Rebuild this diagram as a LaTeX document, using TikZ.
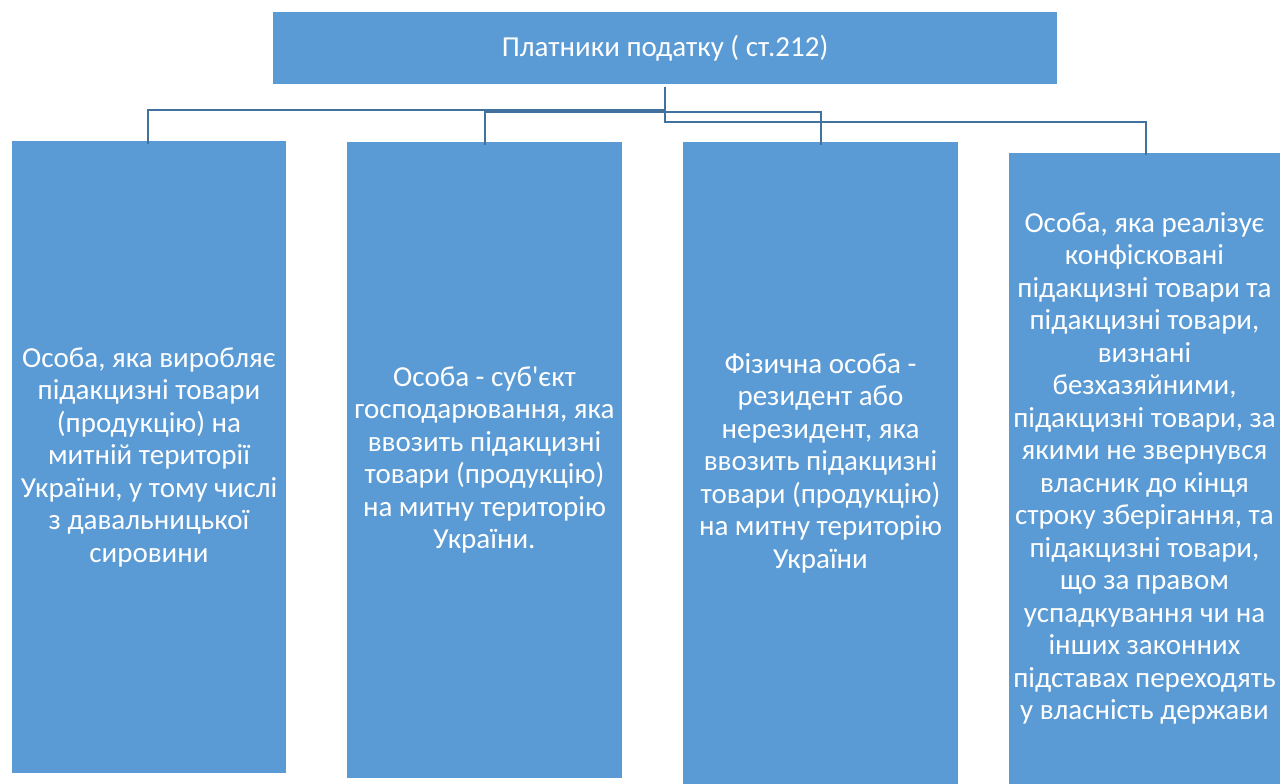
\documentclass[tikz,border=0pt]{standalone}
\usepackage{fontspec}
\setmainfont{Carlito}
\newfontfamily\carlfont{Carlito}
\definecolor{boxblue}{HTML}{5B9BD5}
\definecolor{lineblue}{HTML}{41719C}
\begin{document}
\begin{tikzpicture}[x=1pt,y=-1pt,
  blk/.style={fill=boxblue,draw=none,inner sep=0pt,text=white,align=center,
    font=\carlfont\fontsize{29}{32.5}\selectfont},
  conn/.style={draw=lineblue,line width=2pt}]
\useasboundingbox (0,0) rectangle (1280,784);
\node[blk,minimum width=784pt,minimum height=72pt] (top) at (665,48) {Платники податку ( ст.212)};
\node[blk,minimum width=274pt,minimum height=632pt] (b1) at (149,457) {Особа, яка виробляє\\підакцизні товари\\(продукцію) на\\митній території\\України, у тому числі\\з давальницької\\сировини};
\node[blk,minimum width=275pt,minimum height=636pt] (b2) at (484.5,460) {Особа - суб'єкт\\господарювання, яка\\ввозить підакцизні\\товари (продукцію)\\на митну територію\\України.};
\node[blk,minimum width=275pt,minimum height=642pt] (b3) at (820.5,463) {Фізична особа -\\резидент або\\нерезидент, яка\\ввозить підакцизні\\товари (продукцію)\\на митну територію\\України};
\node[blk,minimum width=271pt,minimum height=631pt] (b4) at (1144.5,468.5) {Особа, яка реалізує\\конфісковані\\підакцизні товари та\\підакцизні товари,\\визнані\\безхазяйними,\\підакцизні товари, за\\якими не звернувся\\власник до кінця\\строку зберігання, та\\підакцизні товари,\\що за правом\\успадкування чи на\\інших законних\\підставах переходять\\у власність держави};
\coordinate (t) at (665,87);
\draw[conn] (t) -- (665,110) -- (148,110) -- ([yshift=-3pt]b1.north -| 148,0);
\draw[conn] (t) -- (665,112) -- (485,112) -- ([yshift=-3pt]b2.north -| 485,0);
\draw[conn] (665,112) -- (821,112) -- ([yshift=-3pt]b3.north -| 821,0);
\draw[conn] (t) -- (665,122) -- (1146,122) -- ([yshift=-2pt]b4.north -| 1146,0);
\end{tikzpicture}
\end{document}
